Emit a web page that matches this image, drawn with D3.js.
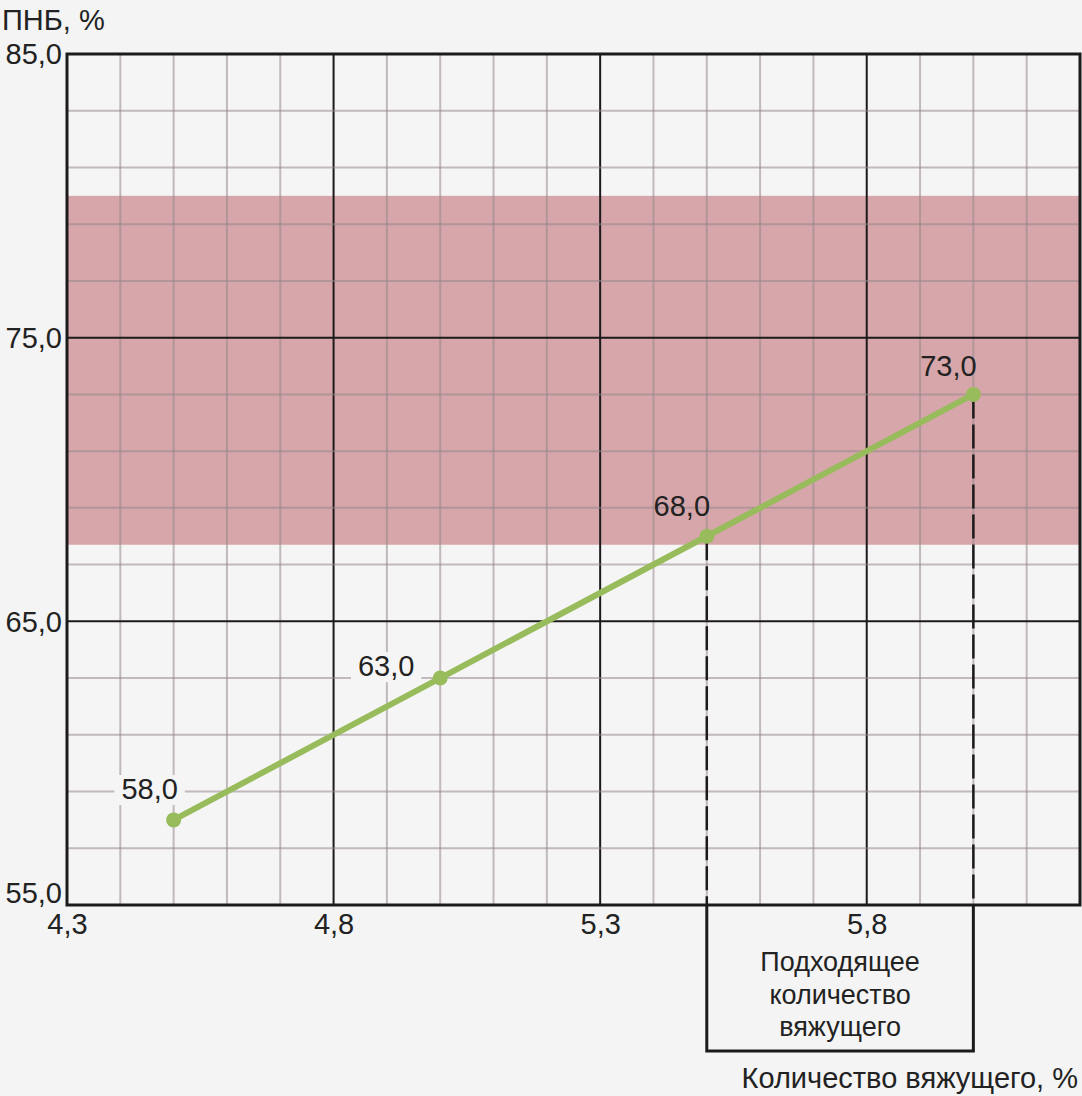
<!DOCTYPE html>
<html>
<head>
<meta charset="utf-8">
<script src="https://cdn.jsdelivr.net/npm/d3@7"></script>
<style>
  html, body { margin: 0; padding: 0; background: #f4f4f4; }
  svg { display: block; }
  svg text { font-family: "Liberation Sans", Arial, sans-serif; fill: #222; }
  .tick text { font-size: 29px; }
</style>
</head>
<body>
<svg width="1082" height="1096"></svg>
<script>
// binder content (%) vs VFB (%)
const binderContent = [4.5, 5.0, 5.5, 6.0];
const vfbValues = [58.0, 63.0, 68.0, 73.0];
const xTickValues = [4.3, 4.8, 5.3, 5.8];
const yTickValues = [55, 65, 75, 85];
const targetBand = [67.7, 80.0];
const suitableRange = [5.5, 6.0];
const noteLines = ["Подходящее", "количество", "вяжущего"];

const svg = d3.select("svg");
const width = +svg.attr("width");
const height = +svg.attr("height");

const margin = { top: 54, right: 2, bottom: 191, left: 67 };

const x = d3.scaleLinear().domain([4.3, 6.2]).range([margin.left, width - margin.right]);
const y = d3.scaleLinear().domain([55, 85]).range([height - margin.bottom, margin.top]);

const comma = d => d3.format(".1f")(d).replace(".", ",");

const pink = "#d6a6aa";
const green = "#98bb5c";
const ink = "#1c1a1b";
const plotBg = "#f6f5f5";

// plot background
svg.append("rect")
  .attr("x", x(4.3)).attr("y", y(85))
  .attr("width", x(6.2) - x(4.3)).attr("height", y(55) - y(85))
  .attr("fill", plotBg);

// target band
svg.append("rect")
  .attr("x", x(4.3)).attr("y", y(targetBand[1]))
  .attr("width", x(6.2) - x(4.3))
  .attr("height", y(targetBand[0]) - y(targetBand[1]))
  .attr("fill", pink);

// grid: every 0.1 on x, every 2 on y; majors at the tick values
const xMinor = d3.range(1, 19).map(i => +(4.3 + i * 0.1).toFixed(1));
const yMinor = d3.range(1, 15).map(i => 55 + i * 2);

const grid = svg.append("g");
grid.selectAll(".vx").data(xMinor).enter().append("line")
  .attr("x1", d => x(d)).attr("x2", d => x(d))
  .attr("y1", y(85)).attr("y2", y(55))
  .attr("stroke", d => xTickValues.includes(d) ? ink : "rgba(150,135,138,0.55)")
  .attr("stroke-width", 2);
grid.selectAll(".hy").data(yMinor).enter().append("line")
  .attr("x1", x(4.3)).attr("x2", x(6.2))
  .attr("y1", d => y(d)).attr("y2", d => y(d))
  .attr("stroke", d => yTickValues.includes(d) ? ink : "rgba(150,135,138,0.55)")
  .attr("stroke-width", 2);

// frame
svg.append("rect")
  .attr("x", x(4.3)).attr("y", y(85))
  .attr("width", x(6.2) - x(4.3)).attr("height", y(55) - y(85))
  .attr("fill", "none").attr("stroke", ink).attr("stroke-width", 3);

// axes
const yAxis = svg.append("g")
  .attr("transform", `translate(${x(4.3)},0)`)
  .call(d3.axisLeft(y).tickValues(yTickValues).tickFormat(comma).tickSize(0).tickPadding(5));
yAxis.attr("font-family", null).attr("font-size", null);
yAxis.select(".domain").remove();
yAxis.selectAll(".tick text").attr("dy", d => d === 55 ? "-0.08em" : "0.34em");

const xAxis = svg.append("g")
  .attr("transform", `translate(0,${y(55)})`)
  .call(d3.axisBottom(x).tickValues(xTickValues).tickFormat(comma).tickSize(0).tickPadding(8));
xAxis.attr("font-family", null).attr("font-size", null);
xAxis.select(".domain").remove();

// dashed drop lines from the points inside the suitable range
const picks = binderContent
  .map((b, i) => ({ b, v: vfbValues[i] }))
  .filter(d => d.b >= suitableRange[0] && d.b <= suitableRange[1]);

svg.selectAll(".drop").data(picks).enter().append("line")
  .attr("x1", d => x(d.b)).attr("x2", d => x(d.b))
  .attr("y1", d => y(d.v)).attr("y2", y(55))
  .attr("stroke", ink).attr("stroke-width", 2.5)
  .attr("stroke-dasharray", "24,6");

// bracket below axis
const boxBottom = 1051;
svg.append("path")
  .attr("d", `M${x(suitableRange[0])},${y(55)} V${boxBottom} H${x(suitableRange[1])} V${y(55)}`)
  .attr("fill", "none").attr("stroke", ink).attr("stroke-width", 3);

const midX = (x(suitableRange[0]) + x(suitableRange[1])) / 2;
svg.append("g").selectAll("text").data(noteLines).enter().append("text")
  .attr("x", midX)
  .attr("y", (d, i) => 962 + i * 32.5)
  .attr("dy", "0.35em")
  .attr("text-anchor", "middle")
  .attr("font-size", 27)
  .text(d => d);

// line + points
const line = d3.line().x((d, i) => x(binderContent[i])).y(d => y(d));
svg.append("path")
  .datum(vfbValues)
  .attr("d", line)
  .attr("fill", "none")
  .attr("stroke", green)
  .attr("stroke-width", 6)
  .attr("stroke-linejoin", "round");

svg.selectAll(".pt").data(vfbValues).enter().append("circle")
  .attr("cx", (d, i) => x(binderContent[i]))
  .attr("cy", d => y(d))
  .attr("r", 7.5)
  .attr("fill", green);

// value labels, boxed in the background colour where they sit on the white
const labelShift = [[-24, -31], [-54, -12], [-25, -30], [-25, -29]];
vfbValues.forEach((v, i) => {
  const g = svg.append("g");
  const t = g.append("text")
    .attr("x", x(binderContent[i]) + labelShift[i][0])
    .attr("y", y(v) + labelShift[i][1])
    .attr("dy", "0.35em")
    .attr("text-anchor", "middle")
    .attr("font-size", 29)
    .text(comma(v));
  const bb = t.node().getBBox();
  const inBand = v >= targetBand[0] && v <= targetBand[1];
  if (!inBand) {
    g.insert("rect", "text")
      .attr("x", bb.x - 7).attr("y", bb.y + 2)
      .attr("width", bb.width + 14).attr("height", bb.height - 2)
      .attr("fill", plotBg);
  }
});

// axis titles
svg.append("text")
  .attr("x", 2).attr("y", 20).attr("dy", "0.35em")
  .attr("font-size", 29)
  .text("ПНБ, %");

svg.append("text")
  .attr("x", 1078).attr("y", 1078).attr("dy", "0.35em")
  .attr("text-anchor", "end")
  .attr("font-size", 29)
  .text("Количество вяжущего, %");
</script>
</body>
</html>
